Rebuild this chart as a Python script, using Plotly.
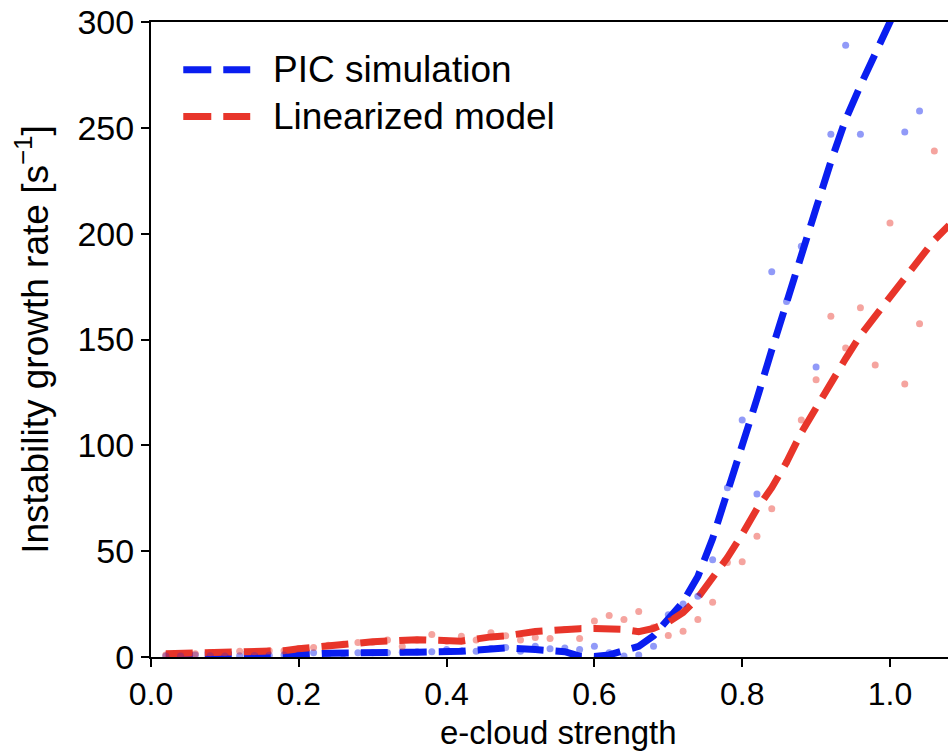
import plotly.graph_objects as go

# ---- data ----
x_line = [0.02, 0.06, 0.10, 0.14, 0.18, 0.20, 0.24, 0.28, 0.30, 0.36, 0.42, 0.46, 0.48,
          0.52, 0.54, 0.56, 0.58, 0.60, 0.62, 0.64, 0.66, 0.68, 0.70, 0.72, 0.74, 0.76,
          0.78, 0.80, 0.82, 0.84, 0.86, 0.88, 0.90, 0.92, 0.94, 0.96, 0.98, 1.00, 1.02,
          1.04, 1.06, 1.08]
pic_line = [0.8, 0.8, 0.8, 0.8, 1.0, 1.2, 1.8, 2.2, 2.3, 2.3, 2.7, 4.0, 4.3,
            3.5, 3.3, 2.5, 0.4, 0.2, 1.0, 3.0, 5.0, 10.0, 18.0, 26.0, 38.0, 56.0,
            78.0, 99.0, 122.0, 145.0, 168.0, 190.0, 212.0, 234.0, 254.0, 270.0, 286.0, 300.0, 315.0,
            330.0, 345.0, 360.0]
lin_line = [1.5, 2.0, 2.0, 2.3, 3.0, 3.9, 5.5, 6.6, 7.2, 8.2, 7.5, 9.5, 10.0,
            12.0, 12.6, 13.3, 13.4, 13.5, 13.3, 13.0, 12.0, 13.5, 16.5, 21.0, 28.0, 37.0,
            47.0, 58.0, 70.0, 80.0, 92.0, 106.0, 118.0, 130.0, 141.0, 152.0, 161.0, 170.0, 180.0,
            189.0, 197.0, 204.0]

x_pts = [0.02, 0.04, 0.06, 0.08, 0.10, 0.12, 0.14, 0.16, 0.18, 0.20, 0.22, 0.24, 0.26,
         0.28, 0.30, 0.32, 0.34, 0.36, 0.38, 0.40, 0.42, 0.44, 0.46, 0.48, 0.50, 0.52,
         0.54, 0.56, 0.58, 0.60, 0.62, 0.64, 0.66, 0.68, 0.70, 0.72, 0.74, 0.76, 0.78,
         0.80, 0.82, 0.84, 0.86, 0.88, 0.90, 0.92, 0.94, 0.96, 0.98, 1.00, 1.02, 1.04, 1.06]
pic_pts = [0.5, 0.5, 1.0, 0.6, 0.5, 0.6, 0.7, 0.8, 1.0, 1.0, 2.0, 1.5, 1.5,
           2.0, 2.0, 2.0, 2.3, 2.5, 2.5, 3.5, 3.0, 2.7, 4.0, 4.5, 2.7, 5.1,
           3.9, 4.3, 3.5, 5.1, 2.0, 0.5, 1.0, 5.1, 20.0, 25.0, 28.7, 46.0, 80.0,
           112.0, 77.0, 182.0, 168.0, 194.0, 137.0, 247.0, 289.0, 247.0, 330.0, 360.0, 248.0, 258.0, 340.0]
lin_pts = [1.0, 1.0, 1.5, 2.0, 2.0, 2.7, 2.5, 3.0, 3.0, 4.0, 4.5, 5.5, 6.0,
           6.9, 7.0, 8.0, 5.0, 8.0, 10.6, 7.5, 9.8, 8.0, 11.5, 10.0, 8.0, 9.2,
           8.7, 13.0, 8.7, 17.0, 19.6, 17.7, 21.5, 14.0, 10.2, 12.2, 17.7, 25.9, 44.6,
           45.0, 57.0, 70.0, 92.0, 112.0, 131.0, 161.0, 146.0, 165.0, 138.0, 205.0, 129.0, 157.5, 239.0]

names = ["PIC simulation", "Linearized model"]
x_title = "e-cloud strength"
y_title = "Instability growth rate [s<sup>−1</sup>]"
x_ticks = [0.0, 0.2, 0.4, 0.6, 0.8, 1.0]
y_ticks = [0, 50, 100, 150, 200, 250, 300]

BLUE = "#0a1ef0"
RED = "#e8352a"
FONT = "Liberation Sans, Arial, sans-serif"
DASH = "27px,12px"

fig = go.Figure()
fig.add_trace(go.Scatter(x=x_line, y=pic_line, mode="lines", name=names[0],
                         line=dict(color=BLUE, width=7, dash=DASH)))
fig.add_trace(go.Scatter(x=x_line, y=lin_line, mode="lines", name=names[1],
                         line=dict(color=RED, width=7, dash=DASH)))
fig.add_trace(go.Scatter(x=x_pts, y=pic_pts, mode="markers", showlegend=False,
                         marker=dict(color=BLUE, size=7, opacity=0.45, line=dict(width=0))))
fig.add_trace(go.Scatter(x=x_pts, y=lin_pts, mode="markers", showlegend=False,
                         marker=dict(color=RED, size=7, opacity=0.45, line=dict(width=0))))

# legend drawn as in the reference (two-dash keys)
leg_y = [0.925, 0.851]
for i, (nm, col) in enumerate(zip(names, [BLUE, RED])):
    fig.add_shape(type="line", xref="paper", yref="paper",
                  x0=0.0405, x1=0.1245, y0=leg_y[i], y1=leg_y[i],
                  line=dict(color=col, width=7, dash="28px,12px"))
    fig.add_annotation(xref="paper", yref="paper", x=0.150, y=leg_y[i],
                       text=nm, showarrow=False, xanchor="left", yanchor="middle",
                       font=dict(family=FONT, size=37, color="black"))

# x-axis title (centred on the full, partly cropped axes as in the reference)
fig.add_annotation(xref="paper", yref="paper", x=0.511, y=-0.1185,
                   text=x_title, showarrow=False, xanchor="center", yanchor="middle",
                   font=dict(family=FONT, size=33, color="black"))

fig.update_layout(
    width=948, height=755,
    margin=dict(l=151, r=0, t=22, b=98),
    plot_bgcolor="white", paper_bgcolor="white",
    showlegend=False,
    font=dict(family=FONT, color="black"),
)
fig.update_xaxes(range=[0, 1.0785], tickvals=x_ticks, ticktext=[f"{v:.1f}" for v in x_ticks],
                 showgrid=False, zeroline=False, showline=True, linecolor="black", linewidth=2,
                 mirror=True, ticks="outside", ticklen=8, tickwidth=2, tickcolor="black",
                 tickfont=dict(size=32, family=FONT))
fig.update_yaxes(range=[0, 300], tickvals=y_ticks,
                 showgrid=False, zeroline=False, showline=True, linecolor="black", linewidth=2,
                 mirror=False, ticks="outside", ticklen=8, tickwidth=2, tickcolor="black",
                 tickfont=dict(size=34, family=FONT),
                 title=dict(text=y_title, font=dict(size=37, family=FONT), standoff=18))

fig.write_html("out.html")
